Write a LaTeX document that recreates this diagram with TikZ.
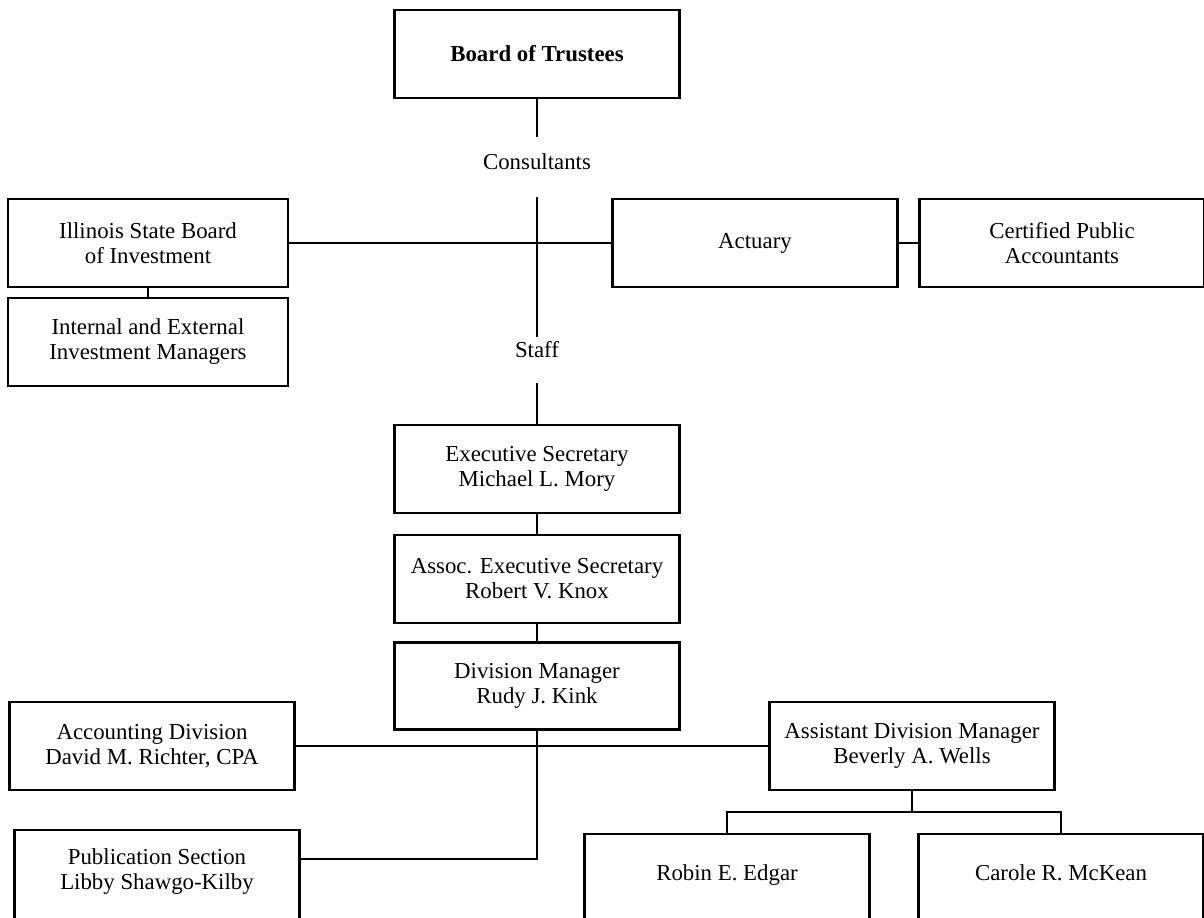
\documentclass[tikz,border=0pt]{standalone}
\usepackage{fontspec}
\setmainfont{Liberation Serif}
\usepackage{tikz}

\newcommand\orgfont{\fontsize{13}{14.2}\selectfont}

\begin{document}
\begin{tikzpicture}[x=0.02cm, y=-0.02cm,
  box/.style={draw, line width=1.3pt, align=center, font=\orgfont, minimum width=5.7cm, minimum height=1.76cm, inner sep=2pt},
  cutbox/.style={box, anchor=north, minimum height=0pt, text depth=2cm},
  tag/.style={font=\orgfont, anchor=base, inner xsep=2pt},
  link/.style={line width=0.9pt}]

  \clip (0,0) rectangle (1204,918);

  % Top of the chart
  \node[box, font=\orgfont\bfseries] (board) at (537,54) {Board of Trustees};
  \node[tag, inner ysep=0.34cm, text depth=0.2cm] (cons) at (537,170) {Consultants};

  % Consultants row
  \node[box, minimum width=5.6cm] (isbi) at (148,243) {Illinois State Board\\of Investment};
  \node[box, minimum width=5.6cm] (mgrs) at (148,342) {Internal and External\\Investment Managers};
  \node[box] (act) at (755,243) {Actuary};
  \node[box] (cpa) at (1062,243) {Certified Public\\Accountants};

  % Staff column
  \node[tag, inner ysep=0.1cm, text depth=0.4cm] (staff) at (537,358) {Staff};
  \node[box] (exec) at (537,469) {Executive Secretary\\Michael L. Mory};
  \node[box] (assoc) at (537,579) {Assoc. Executive Secretary\\Robert V. Knox};
  \node[box, minimum height=1.74cm] (dm) at (537,686) {Division Manager\\Rudy J. Kink};

  % Divisions
  \node[box] (acct) at (152,746) {Accounting Division\\David M. Richter, CPA};
  \node[box] (asst) at (912,746) {Assistant Division Manager\\Beverly A. Wells};
  \node[cutbox, inner ysep=0.38cm] (pub) at (157,829) {Publication Section\\Libby Shawgo-Kilby};
  \node[cutbox, inner ysep=0.62cm] (robin) at (727,833) {Robin E. Edgar};
  \node[cutbox, inner ysep=0.62cm] (carole) at (1061,833) {Carole R. McKean};

  % Connecting lines
  \draw[link] (board) -- (cons);
  \draw[link] (cons) -- (staff);
  \draw[link] (staff) -- (exec);
  \draw[link] (isbi) -- (act);
  \draw[link] (act) -- (cpa);
  \draw[link] (isbi) -- (mgrs);
  \draw[link] (exec) -- (assoc);
  \draw[link] (assoc) -- (dm);
  \draw[link] (acct) -- (asst);
  \draw[link] (dm.south) |- ([yshift=-0.6cm]pub.north east);
  \draw[link] (asst.south) -- ++(0,21) coordinate (fork);
  \draw[link] (fork) -| (robin.north);
  \draw[link] (fork) -| (carole.north);

\end{tikzpicture}
\end{document}
